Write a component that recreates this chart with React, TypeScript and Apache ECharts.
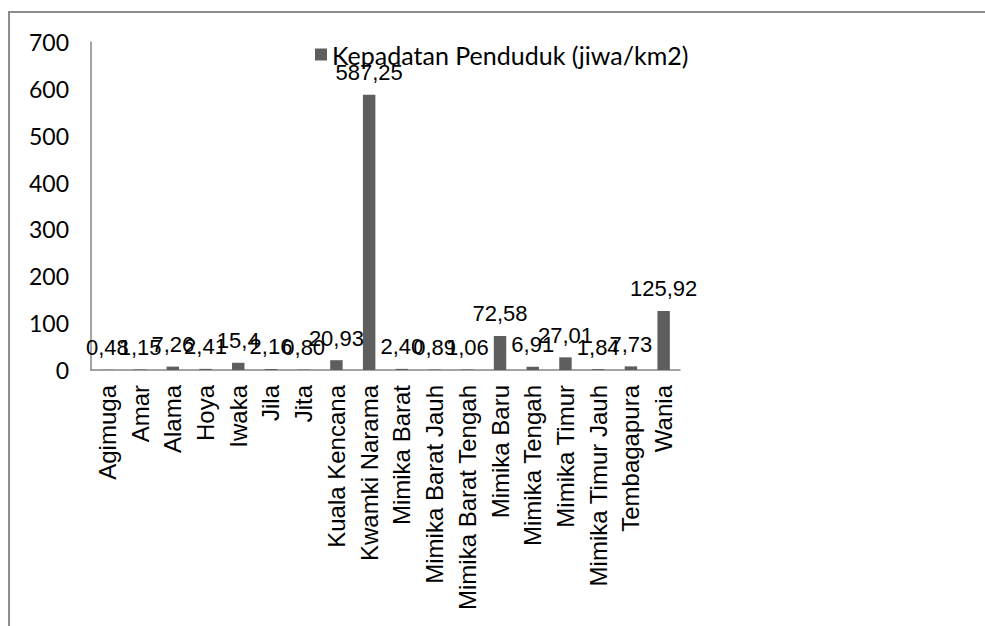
import React, { useEffect, useRef } from "react";
import * as echarts from "echarts";

const categories = [
  "Agimuga", "Amar", "Alama", "Hoya", "Iwaka", "Jila", "Jita", "Kuala Kencana",
  "Kwamki Narama", "Mimika Barat", "Mimika Barat Jauh", "Mimika Barat Tengah",
  "Mimika Baru", "Mimika Tengah", "Mimika Timur", "Mimika Timur Jauh",
  "Tembagapura", "Wania",
];
const density = [0.48, 1.15, 7.26, 2.41, 15.4, 2.16, 0.8, 20.93, 587.25, 2.4, 0.89, 1.06, 72.58, 6.91, 27.01, 1.84, 7.73, 125.92];
const densityLabels = ["0,48", "1,15", "7,26", "2,41", "15,4", "2,16", "0,80", "20,93", "587,25", "2,40", "0,89", "1,06", "72,58", "6,91", "27,01", "1,84", "7,73", "125,92"];
const seriesName = "Kepadatan Penduduk (jiwa/km2)";

export default function App() {
  const ref = useRef<HTMLDivElement>(null);
  useEffect(() => {
    if (!ref.current) return;
    const chart = echarts.init(ref.current, null, { renderer: "svg" });
    chart.setOption({
      animation: false,
      backgroundColor: "#ffffff",
      graphic: [
        {
          type: "polyline",
          shape: { points: [[9, 700], [9, 12], [1000, 12]] },
          style: { stroke: "#8c8c8c", lineWidth: 2, fill: "none" },
        },
      ],
      legend: {
        data: [seriesName],
        left: 310,
        top: 37,
        itemWidth: 12,
        itemHeight: 12,
        itemGap: 6,
        icon: "rect",
        textStyle: { fontFamily: "Lato", fontSize: 25, color: "#000" },
      },
      grid: { left: 91, right: 305, top: 42, bottom: 256, containLabel: false },
      xAxis: {
        type: "category",
        data: categories,
        axisLine: { lineStyle: { color: "#868686", width: 1.5 } },
        axisTick: { show: false },
        axisLabel: {
          rotate: 90,
          interval: 0,
          margin: 15,
          fontFamily: "'Liberation Sans', Arial, sans-serif",
          fontSize: 24,
          color: "#000",
        },
      },
      yAxis: {
        type: "value",
        min: 0,
        max: 700,
        interval: 100,
        axisLine: { show: true, lineStyle: { color: "#868686", width: 1.5 } },
        axisTick: { show: false },
        splitLine: { show: false },
        axisLabel: { margin: 22, fontFamily: "Lato", fontSize: 23, color: "#000" },
      },
      series: [
        {
          name: seriesName,
          type: "bar",
          data: density,
          barCategoryGap: "62%",
          itemStyle: { color: "#5e5e5e" },
          label: {
            show: true,
            position: "top",
            distance: 11,
            fontFamily: "'Liberation Sans', Arial, sans-serif",
            fontSize: 22,
            color: "#000",
            formatter: (p: any) => densityLabels[p.dataIndex],
          },
        },
      ],
    });
    return () => chart.dispose();
  }, []);
  return (
    <div
      ref={ref}
      style={{ position: "absolute", left: 0, top: 0, width: 985, height: 626 }}
    />
  );
}
